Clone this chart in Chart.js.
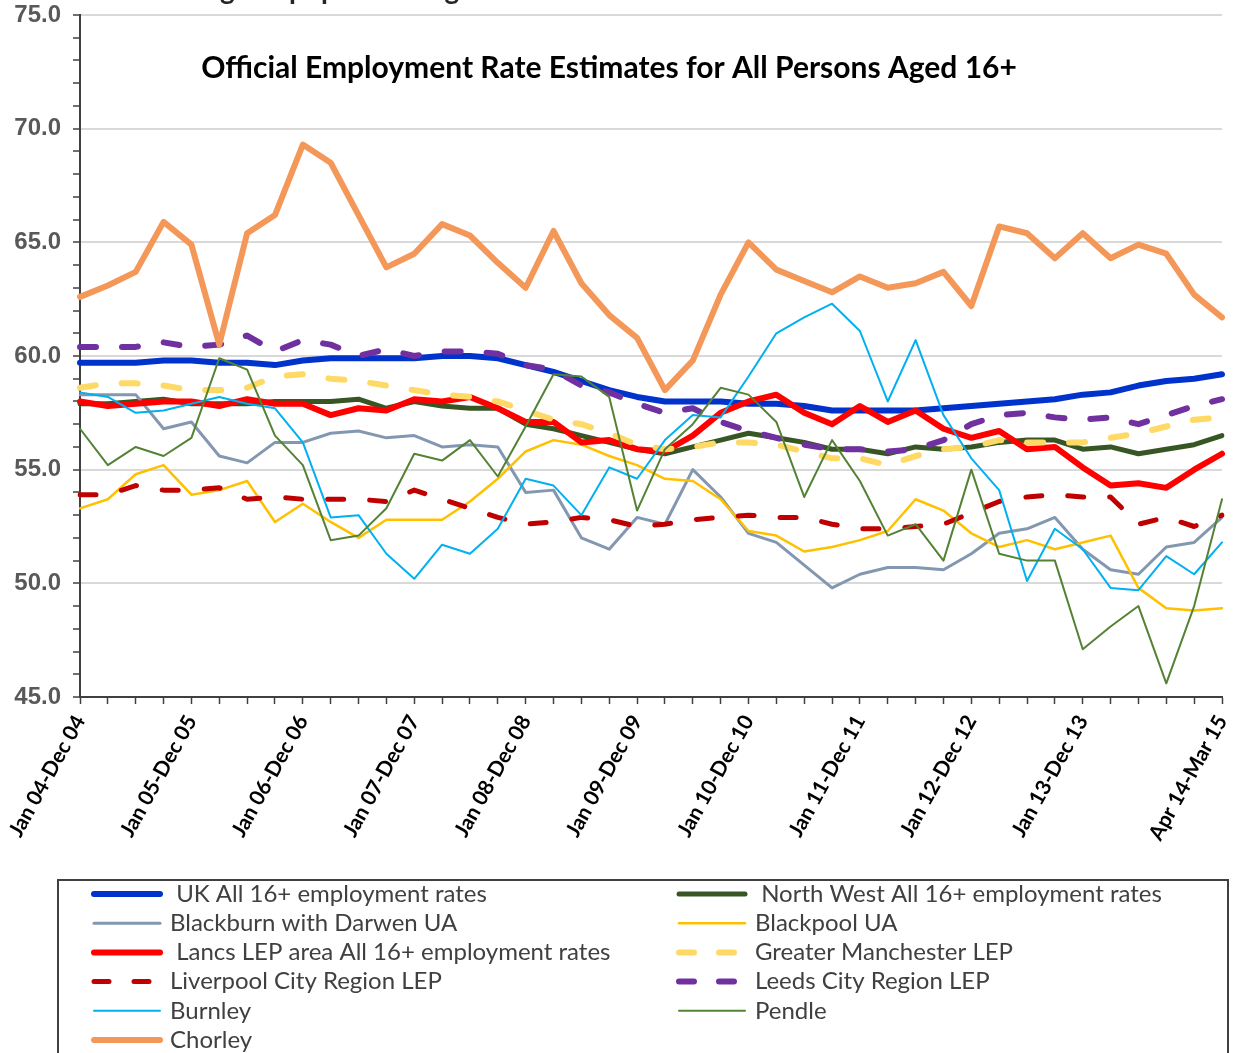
<!DOCTYPE html>
<html lang="en">
<head>
    <meta charset="UTF-8">
    <title>Official Employment Rate Estimates</title>
    <script src="https://cdn.jsdelivr.net/npm/chart.js"></script>
    <style>
        html, body { margin: 0; padding: 0; background: #fff; }
        #wrap { width: 1233px; height: 1053px; position: relative; }
    </style>
</head>
<body>
    <div id="wrap"><canvas id="empChart" width="1233" height="1053"></canvas></div>

    <script>
        // rolling annual periods, one per quarter
        const periods = ['Jan 04-Dec 04','Apr 04-Mar 05','Jul 04-Jun 05','Oct 04-Sep 05',
            'Jan 05-Dec 05','Apr 05-Mar 06','Jul 05-Jun 06','Oct 05-Sep 06',
            'Jan 06-Dec 06','Apr 06-Mar 07','Jul 06-Jun 07','Oct 06-Sep 07',
            'Jan 07-Dec 07','Apr 07-Mar 08','Jul 07-Jun 08','Oct 07-Sep 08',
            'Jan 08-Dec 08','Apr 08-Mar 09','Jul 08-Jun 09','Oct 08-Sep 09',
            'Jan 09-Dec 09','Apr 09-Mar 10','Jul 09-Jun 10','Oct 09-Sep 10',
            'Jan 10-Dec 10','Apr 10-Mar 11','Jul 10-Jun 11','Oct 10-Sep 11',
            'Jan 11-Dec 11','Apr 11-Mar 12','Jul 11-Jun 12','Oct 11-Sep 12',
            'Jan 12-Dec 12','Apr 12-Mar 13','Jul 12-Jun 13','Oct 12-Sep 13',
            'Jan 13-Dec 13','Apr 13-Mar 14','Jul 13-Jun 14','Oct 13-Sep 14',
            'Jan 14-Dec 14','Apr 14-Mar 15'];
        // which period labels are printed on the axis
        const shownTicks = [0, 4, 8, 12, 16, 20, 24, 28, 32, 36, 41];

        const uk = [59.7,59.7,59.7,59.8,59.8,59.7,59.7,59.6,59.8,59.9,59.9,59.9,59.9,60.0,60.0,59.9,59.6,59.3,58.9,58.5,58.2,58.0,58.0,58.0,57.9,57.9,57.8,57.6,57.6,57.6,57.6,57.7,57.8,57.9,58.0,58.1,58.3,58.4,58.7,58.9,59.0,59.2];
        const northWest = [57.9,57.9,58.0,58.1,57.9,57.9,57.9,58.0,58.0,58.0,58.1,57.7,58.0,57.8,57.7,57.7,57.0,56.8,56.5,56.2,55.9,55.7,56.0,56.3,56.6,56.4,56.2,55.9,55.9,55.7,56.0,55.9,56.0,56.2,56.3,56.3,55.9,56.0,55.7,55.9,56.1,56.5];
        const blackburn = [58.3,58.3,58.3,56.8,57.1,55.6,55.3,56.2,56.2,56.6,56.7,56.4,56.5,56.0,56.1,56.0,54.0,54.1,52.0,51.5,52.9,52.6,55.0,53.8,52.2,51.8,50.8,49.8,50.4,50.7,50.7,50.6,51.3,52.2,52.4,52.9,51.5,50.6,50.4,51.6,51.8,52.9];
        const blackpool = [53.3,53.7,54.8,55.2,53.9,54.1,54.5,52.7,53.5,52.7,52.0,52.8,52.8,52.8,53.6,54.6,55.8,56.3,56.1,55.6,55.2,54.6,54.5,53.7,52.3,52.1,51.4,51.6,51.9,52.3,53.7,53.2,52.2,51.6,51.9,51.5,51.8,52.1,49.8,48.9,48.8,48.9];
        const lancs = [58.0,57.8,57.9,58.0,58.0,57.8,58.1,57.9,57.9,57.4,57.7,57.6,58.1,58.0,58.2,57.7,57.1,57.1,56.2,56.3,55.9,55.8,56.5,57.5,58.0,58.3,57.5,57.0,57.8,57.1,57.6,56.8,56.4,56.7,55.9,56.0,55.1,54.3,54.4,54.2,55.0,55.7];
        const greaterManchester = [58.6,58.8,58.8,58.7,58.5,58.5,58.6,59.1,59.2,59.0,58.9,58.7,58.5,58.3,58.2,58.0,57.6,57.2,57.0,56.6,56.1,55.9,56.0,56.2,56.2,56.1,55.8,55.5,55.5,55.2,55.6,55.9,56.0,56.3,56.2,56.2,56.2,56.4,56.6,56.9,57.2,57.3];
        const liverpool = [53.9,53.9,54.3,54.1,54.1,54.2,53.7,53.8,53.7,53.7,53.7,53.6,54.1,53.7,53.3,52.9,52.6,52.7,52.9,52.8,52.5,52.6,52.8,52.9,53.0,52.9,52.9,52.6,52.4,52.4,52.5,52.6,53.1,53.6,53.8,53.9,53.8,53.8,52.6,52.9,52.5,53.0];
        const leeds = [60.4,60.4,60.4,60.6,60.4,60.5,60.9,60.2,60.7,60.5,60.0,60.3,60.0,60.2,60.2,60.1,59.6,59.4,58.7,58.4,57.9,57.5,57.7,57.1,56.7,56.4,56.1,55.9,55.9,55.8,55.9,56.3,57.0,57.4,57.5,57.3,57.2,57.3,57.0,57.4,57.8,58.1];
        const burnley = [58.4,58.2,57.5,57.6,57.9,58.2,57.9,57.7,56.2,52.9,53.0,51.3,50.2,51.7,51.3,52.4,54.6,54.3,53.0,55.1,54.6,56.3,57.4,57.3,59.1,61.0,61.7,62.3,61.1,58.0,60.7,57.4,55.5,54.1,50.1,52.4,51.5,49.8,49.7,51.2,50.4,51.8];
        const pendle = [56.8,55.2,56.0,55.6,56.4,59.9,59.4,56.5,55.2,51.9,52.1,53.3,55.7,55.4,56.3,54.7,56.9,59.2,59.1,58.2,53.2,55.9,57.0,58.6,58.3,57.1,53.8,56.3,54.5,52.1,52.6,51.0,55.0,51.3,51.0,51.0,47.1,48.1,49.0,45.6,49.0,53.7];
        const chorley = [62.6,63.1,63.7,65.9,64.9,60.5,65.4,66.2,69.3,68.5,66.2,63.9,64.5,65.8,65.3,64.1,63.0,65.5,63.2,61.8,60.8,58.5,59.8,62.7,65.0,63.8,63.3,62.8,63.5,63.0,63.2,63.7,62.2,65.7,65.4,64.3,65.4,64.3,64.9,64.5,62.7,61.7];

        const DASH = [16, 26];

        function series(label, data, color, width, dash) {
            return {
                label: label,
                data: data,
                borderColor: color,
                backgroundColor: color,
                borderWidth: width,
                borderDash: dash || [],
                borderCapStyle: 'round',
                borderJoinStyle: 'round',
                pointRadius: 0,
                pointHoverRadius: 0,
                tension: 0,
                fill: false
            };
        }

        const datasets = [
            series(' UK All 16+ employment rates', uk, '#0033CC', 6),
            series(' North West All 16+ employment rates', northWest, '#375623', 5),
            series('Blackburn with Darwen UA', blackburn, '#8497B0', 3),
            series('Blackpool UA', blackpool, '#FFC000', 2.5),
            series(' Lancs LEP area All 16+ employment rates', lancs, '#FF0000', 6),
            series('Greater Manchester LEP', greaterManchester, '#FFD966', 6, DASH),
            series('Liverpool City Region LEP', liverpool, '#C00000', 5, DASH),
            series('Leeds City Region LEP', leeds, '#7030A0', 6, DASH),
            series('Burnley', burnley, '#00B0F0', 2),
            series('Pendle', pendle, '#548235', 2),
            series('Chorley', chorley, '#F4985A', 6)
        ];
        // later series sit on top, as in the original spreadsheet chart
        datasets.forEach((ds, i) => { ds.order = datasets.length - i; });

        // title inside the plot, plus the clipped heading at the very top
        const titlePlugin = {
            id: 'titles',
            afterDraw(chart) {
                const ctx = chart.ctx;
                ctx.save();
                ctx.fillStyle = '#000';
                ctx.textBaseline = 'middle';
                ctx.textAlign = 'center';
                ctx.font = 'bold 30px Lato, "Open Sans", sans-serif';
                ctx.fillText('Official Employment Rate Estimates for All Persons Aged 16+', 609, 68);
                ctx.textAlign = 'left';
                ctx.textBaseline = 'alphabetic';
                ctx.fillStyle = '#262626';
                ctx.font = 'bold 28px Lato, "Open Sans", sans-serif';
                ctx.fillText('Percentage of population aged 16+', 110, -1);
                ctx.restore();
            }
        };

        // boxed two-column legend under the axis
        const boxLegend = {
            id: 'boxLegend',
            afterDraw(chart) {
                const ctx = chart.ctx;
                const sets = chart.data.datasets;
                ctx.save();
                ctx.strokeStyle = '#404040';
                ctx.lineWidth = 2;
                ctx.strokeRect(58, 880, 1170, 200);
                ctx.font = '24px Lato, "Open Sans", sans-serif';
                ctx.textBaseline = 'middle';
                ctx.textAlign = 'left';
                sets.forEach((ds, i) => {
                    const col = i % 2;
                    const row = Math.floor(i / 2);
                    const x0 = col === 0 ? 94 : 679;
                    const y = 894 + row * 29.2;
                    ctx.beginPath();
                    ctx.strokeStyle = ds.borderColor;
                    ctx.lineWidth = ds.borderWidth;
                    ctx.lineCap = 'round';
                    ctx.setLineDash(ds.borderDash.length ? [15, 25] : []);
                    ctx.moveTo(x0, y);
                    ctx.lineTo(x0 + 66, y);
                    ctx.stroke();
                    ctx.setLineDash([]);
                    ctx.fillStyle = '#404040';
                    ctx.fillText(ds.label, x0 + 76, y);
                });
                ctx.restore();
            }
        };

        const ctx = document.getElementById('empChart').getContext('2d');
        new Chart(ctx, {
            type: 'line',
            data: { labels: periods, datasets: datasets },
            plugins: [titlePlugin, boxLegend],
            options: {
                responsive: false,
                animation: false,
                layout: { padding: { left: 0, right: 11, top: 15, bottom: 206 } },
                plugins: {
                    legend: { display: false },
                    tooltip: { enabled: false },
                    title: { display: false }
                },
                scales: {
                    x: {
                        offset: false,
                        afterFit(scale) {
                            scale.height = 150;
                            scale.paddingLeft = 0;
                            scale.paddingRight = 0;
                        },
                        grid: {
                            drawOnChartArea: false,
                            drawTicks: true,
                            tickLength: 7,
                            tickColor: '#404040',
                            tickWidth: 1.5
                        },
                        border: { color: '#404040', width: 2 },
                        ticks: {
                            autoSkip: false,
                            minRotation: 61,
                            maxRotation: 61,
                            padding: 7,
                            color: '#000',
                            font: { family: 'Lato, "Open Sans", sans-serif', size: 21, weight: 'bold' },
                            callback(value, index) {
                                return shownTicks.includes(index) ? periods[index] : '';
                            }
                        }
                    },
                    y: {
                        min: 45,
                        max: 75,
                        afterFit(scale) {
                            scale.width = 80;
                            scale.paddingTop = 0;
                            scale.paddingBottom = 0;
                        },
                        grid: {
                            color: c => (c.tick && c.tick.value % 5 === 0) ? '#d9d9d9' : 'rgba(0,0,0,0)',
                            lineWidth: 2,
                            drawTicks: true,
                            tickLength: 7,
                            tickColor: '#404040',
                            tickWidth: 1.5
                        },
                        border: { color: '#404040', width: 2 },
                        ticks: {
                            stepSize: 1,
                            autoSkip: false,
                            padding: 12,
                            color: '#595959',
                            font: { family: '"Liberation Sans", Arial, sans-serif', size: 24, weight: 'bold' },
                            callback(value) {
                                return value % 5 === 0 ? value.toFixed(1) : '';
                            }
                        }
                    }
                }
            }
        });
    </script>
</body>
</html>
